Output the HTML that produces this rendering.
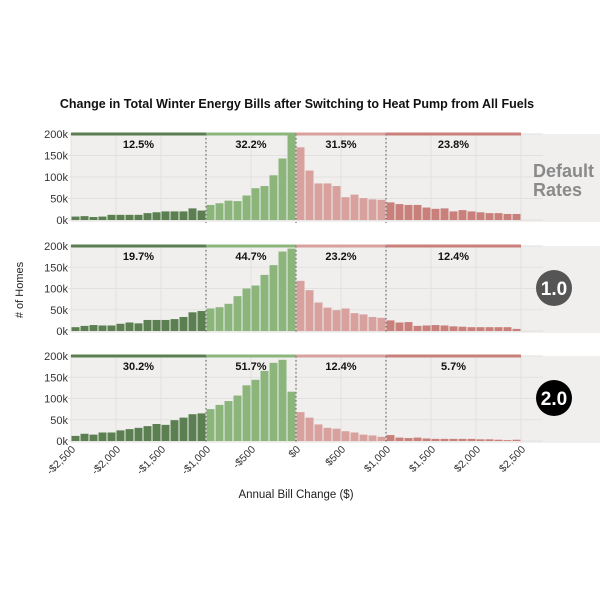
<!DOCTYPE html>
<html><head><meta charset="utf-8"><style>
body{margin:0;background:#fff}
svg{display:block;font-family:"Liberation Sans",sans-serif}
</style></head><body>
<svg id="s" width="600" height="600" viewBox="0 0 600 600"></svg>
<script>
const S=document.getElementById('s');let h='';
h+='<text x="297" y="108" text-anchor="middle" font-size="12.5" font-weight="bold" fill="#111">Change in Total Winter Energy Bills after Switching to Heat Pump from All Fuels</text>';
const panels=[
{top:134,base:220,pct:['12.5%','32.2%','31.5%','23.8%'],
 d:[8,9,7,8,12,12,12,12,16,18,20,20,20,27,22, 35,39,45,44,57,74,79,104,143,200, 169,115,85,85,79,53,59,51,48,47, 41,37,35,35,29,26,27,20,23,20,18,16,16,14,14]},
{top:246,base:331,pct:['19.7%','44.7%','23.2%','12.4%'],
 d:[9,12,14,13,13,17,20,18,26,26,26,28,33,44,47, 53,56,64,82,100,107,132,155,187,194, 118,96,67,55,49,53,42,39,33,31, 25,20,21,12,13,14,13,11,10,9,9,9,9,9,5]},
{top:356,base:441,pct:['30.2%','51.7%','12.4%','5.7%'],
 d:[12,17,15,20,20,25,28,31,35,40,38,49,55,63,65, 75,85,94,107,131,144,165,184,191,116, 68,55,39,31,29,23,20,15,13,10, 14,8,7,8,6,5,5,5,5,5,4,4,3,2,3]}];
const X=v=>71+(v+2500)*450/5000;
const cols=['#5b7f50','#8cb57c','#d9a19d','#c9807b'];
const segs=[[-2500,-1000],[-1000,0],[0,1000],[1000,2500]];
panels.forEach((p,pi)=>{
 const sc=(p.base-p.top)/200;
 h+=`<rect x="71" y="${p.top}" width="529" height="${p.base-p.top+2}" fill="#f0efee"/>`;
 for(let k=0;k<=4;k++){const y=p.base-k*50*sc;
  h+=`<line x1="68" x2="543" y1="${y}" y2="${y}" stroke="#e2e1e0" stroke-width="1"/>`;
  h+=`<text x="68" y="${y+4}" text-anchor="end" font-size="11" fill="#333">${k*50}k</text>`;}
 for(let v=-2500;v<=2500;v+=500){h+=`<line x1="${X(v)}" x2="${X(v)}" y1="${p.top}" y2="${p.base}" stroke="#e2e1e0"/>`;}
 p.d.forEach((val,i)=>{const c=i<15?0:i<25?1:i<35?2:3;const hh=Math.min(val,200)*sc;
  h+=`<rect x="${71+i*9+0.5}" y="${p.base-hh}" width="8" height="${hh}" fill="${cols[c]}"/>`;});
 segs.forEach((s,j)=>{h+=`<rect x="${X(s[0])}" y="${p.top-1.5}" width="${X(s[1])-X(s[0])}" height="3" fill="${cols[j]}"/>`;
  h+=`<text x="${(X(s[0])+X(s[1]))/2}" y="${p.top+14}" text-anchor="middle" font-size="11" font-weight="bold" fill="#111">${p.pct[j]}</text>`;});
 [-1000,0,1000].forEach(v=>{h+=`<line x1="${X(v)}" x2="${X(v)}" y1="${p.top}" y2="${p.base+3}" stroke="#777" stroke-width="1.3" stroke-dasharray="1.5,2.5"/>`;});
});
h+='<text x="533" y="177" font-size="18" font-weight="bold" fill="#8a8a8a">Default</text>';
h+='<text x="533" y="196" font-size="18" font-weight="bold" fill="#8a8a8a">Rates</text>';
h+='<circle cx="554" cy="288" r="18" fill="#555"/><text x="554" y="295" text-anchor="middle" font-size="19" font-weight="bold" fill="#fff">1.0</text>';
h+='<circle cx="554" cy="398" r="18" fill="#000"/><text x="554" y="405" text-anchor="middle" font-size="19" font-weight="bold" fill="#fff">2.0</text>';
h+='<text transform="translate(23,290) rotate(-90)" text-anchor="middle" font-size="11" fill="#222"># of Homes</text>';
const lab={'-2500':'-$2,500','-2000':'-$2,000','-1500':'-$1,500','-1000':'-$1,000','-500':'-$500','0':'$0','500':'$500','1000':'$1,000','1500':'$1,500','2000':'$2,000','2500':'$2,500'};
for(let v=-2500;v<=2500;v+=500){const x=X(v)+5;h+=`<text transform="translate(${x},450) rotate(-45)" text-anchor="end" font-size="10.5" fill="#333">${lab[v]}</text>`;}
h+='<text x="296" y="498" text-anchor="middle" font-size="11.5" fill="#222">Annual Bill Change ($)</text>';
S.innerHTML=h;
</script>
</body></html>
